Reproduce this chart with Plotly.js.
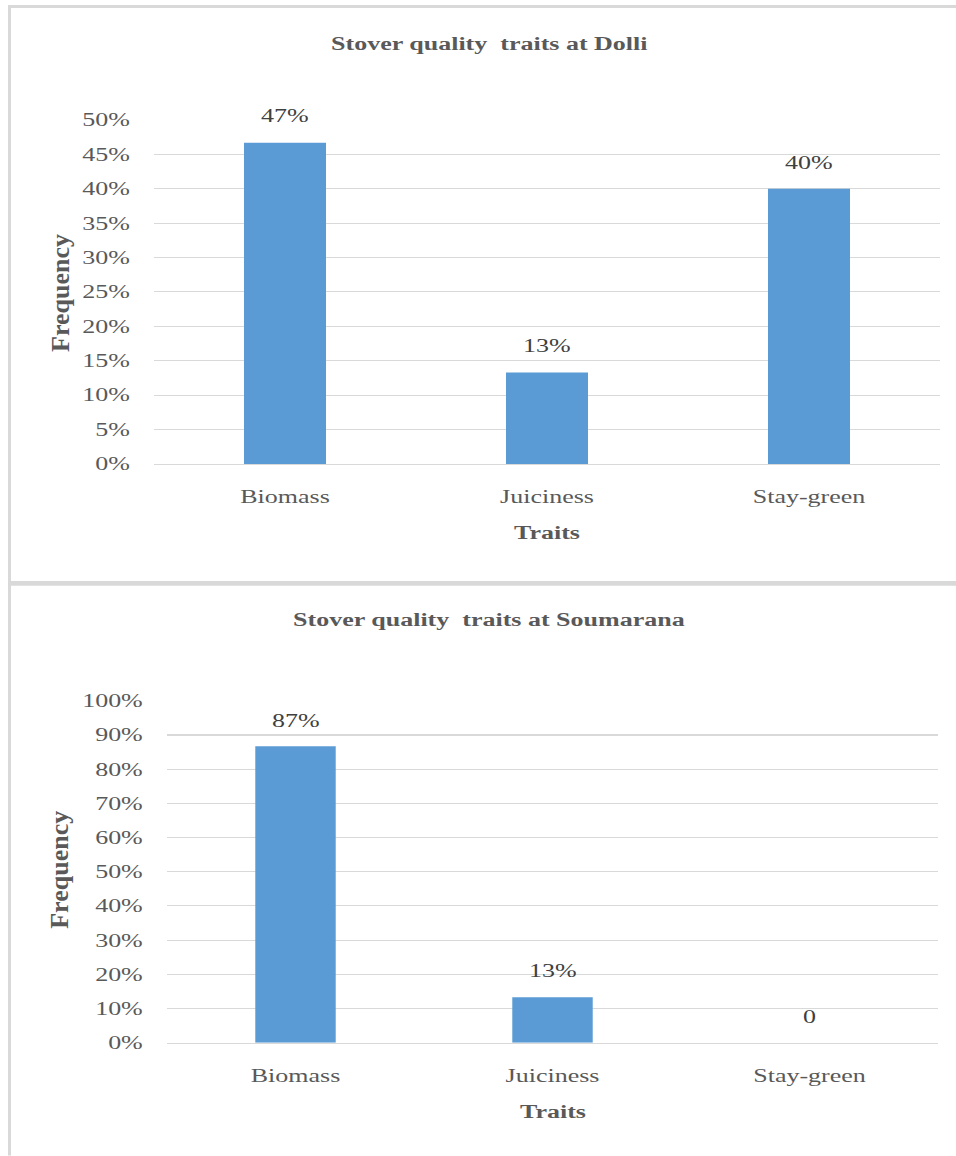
<!DOCTYPE html>
<html>
<head>
<meta charset="utf-8">
<script src="https://cdn.plot.ly/plotly-3.0.1.min.js"></script>
<style>
  html, body { margin: 0; padding: 0; background: #ffffff; }
  #wrap { width: 956px; height: 1156px; overflow: hidden; position: relative; }
  #plot { transform-origin: 0 0; }
</style>
</head>
<body>
<div id="wrap"><div id="plot"></div></div>
<script>
// ---- data ----
const categories = ["Biomass", "Juiciness", "Stay-green"];
const dolliValues = [46.7, 13.3, 40.0];
const dolliLabels = ["47%", "13%", "40%"];
const soumaranaValues = [86.7, 13.3, 0];
const soumaranaLabels = ["87%", "13%", "0"];
const dolliTitle = "Stover quality  traits at Dolli";
const soumaranaTitle = "Stover quality  traits at Soumarana";
const yTitle = "Frequency";
const xTitle = "Traits";
const dolliYTicks = [0, 5, 10, 15, 20, 25, 30, 35, 40, 45, 50];
const dolliYTickLabels = ["0%", "5%", "10%", "15%", "20%", "25%", "30%", "35%", "40%", "45%", "50%"];
const soumaranaYTicks = [0, 10, 20, 30, 40, 50, 60, 70, 80, 90, 100];
const soumaranaYTickLabels = ["0%", "10%", "20%", "30%", "40%", "50%", "60%", "70%", "80%", "90%", "100%"];

// ---- geometry (reference text is vertically compressed; render tall, then squash) ----
const W = 956, SCALE = 0.7, H = 1156 / SCALE;
document.getElementById('plot').style.transform = 'scaleY(' + SCALE + ')';
const px = x => x / W;                 // reference x pixel -> paper
const py = y => 1 - (y / SCALE) / H;   // reference y pixel -> paper

const FONT = '"Liberation Serif", "Times New Roman", serif';
const GRID = "#D9D9D9";
const TXT = "#595959";
const BAR = "#5B9BD5";

const traces = [
  { type: "bar", x: categories, y: dolliValues, xaxis: "x", yaxis: "y",
    marker: { color: BAR }, hoverinfo: "skip", showlegend: false },
  { type: "bar", x: categories, y: soumaranaValues, xaxis: "x2", yaxis: "y2",
    marker: { color: BAR }, hoverinfo: "skip", showlegend: false }
];

const axisCommon = {
  showgrid: false, zeroline: false, fixedrange: true, automargin: false,
  tickfont: { family: FONT, size: 26, color: TXT },
  showline: true, linecolor: GRID, linewidth: 1.5,
  ticks: "outside", tickcolor: "rgba(0,0,0,0)", ticklen: 23
};
const yCommon = {
  showgrid: true, gridcolor: GRID, gridwidth: 1.5, zeroline: false,
  fixedrange: true, automargin: false, showline: false,
  tickfont: { family: FONT, size: 26, color: TXT },
  tickmode: "array",
  ticks: "outside", tickcolor: "rgba(0,0,0,0)"
};

const annotations = [];
function addLabels(vals, labels, xref, yref) {
  vals.forEach((v, i) => {
    annotations.push({ x: categories[i], y: v, xref: xref, yref: yref, text: labels[i],
      showarrow: false, yanchor: "middle", yshift: 37,
      font: { family: FONT, size: 26, color: "#404040" } });
  });
}
addLabels(dolliValues, dolliLabels, "x", "y");
addLabels(soumaranaValues, soumaranaLabels, "x2", "y2");

function txt(text, x, y, size, opts) {
  annotations.push(Object.assign({ text: "<b>" + text + "</b>", x: px(x), y: py(y),
    xref: "paper", yref: "paper", showarrow: false, xanchor: "center", yanchor: "middle",
    font: { family: FONT, size: size, color: TXT } }, opts || {}));
}
txt(dolliTitle, 489, 44, 26);
txt(xTitle, 547, 533, 26);
txt(yTitle, 60, 293, 26, { textangle: -90 });
txt(soumaranaTitle, 489, 620, 26);
txt(xTitle, 553, 1112, 26);
txt(yTitle, 60, 870, 26, { textangle: -90 });

const shapes = [
  { type: "line", xref: "paper", yref: "paper", x0: px(8), x1: px(956), y0: py(6.5), y1: py(6.5),
    line: { color: GRID, width: 4 } },
  { type: "line", xref: "paper", yref: "paper", x0: px(8), x1: px(956), y0: py(583.5), y1: py(583.5),
    line: { color: GRID, width: 7 } },
  { type: "line", xref: "paper", yref: "paper", x0: px(9.5), x1: px(9.5), y0: py(5), y1: py(1156),
    line: { color: GRID, width: 3 } }
];

const layout = {
  width: W, height: H,
  margin: { l: 0, r: 0, t: 0, b: 0, pad: 0 },
  paper_bgcolor: "#ffffff", plot_bgcolor: "#ffffff",
  showlegend: false, bargap: 0.687,
  xaxis: Object.assign({}, axisCommon, { domain: [px(154), px(940)], anchor: "y" }),
  yaxis: Object.assign({}, yCommon, { domain: [py(464), py(120)], range: [0, 50],
    tickvals: dolliYTicks, ticktext: dolliYTickLabels, ticklen: 18, anchor: "x" }),
  xaxis2: Object.assign({}, axisCommon, { domain: [px(167), px(938)], anchor: "y2" }),
  yaxis2: Object.assign({}, yCommon, { domain: [py(1043), py(701)], range: [0, 100],
    tickvals: soumaranaYTicks, ticktext: soumaranaYTickLabels, ticklen: 18, anchor: "x2" }),
  annotations: annotations,
  shapes: shapes
};

Plotly.newPlot("plot", traces, layout, { staticPlot: true, displayModeBar: false }).then(() => {
  // rotated axis titles are not compressed in the reference: undo the squash for them
  document.querySelectorAll("#plot .annotation").forEach(g => {
    if (g.textContent === yTitle) {
      g.style.transformBox = "fill-box";
      g.style.transformOrigin = "center";
      g.style.transform = "scaleY(" + (1 / SCALE) + ")";
    }
  });
});
</script>
</body>
</html>
